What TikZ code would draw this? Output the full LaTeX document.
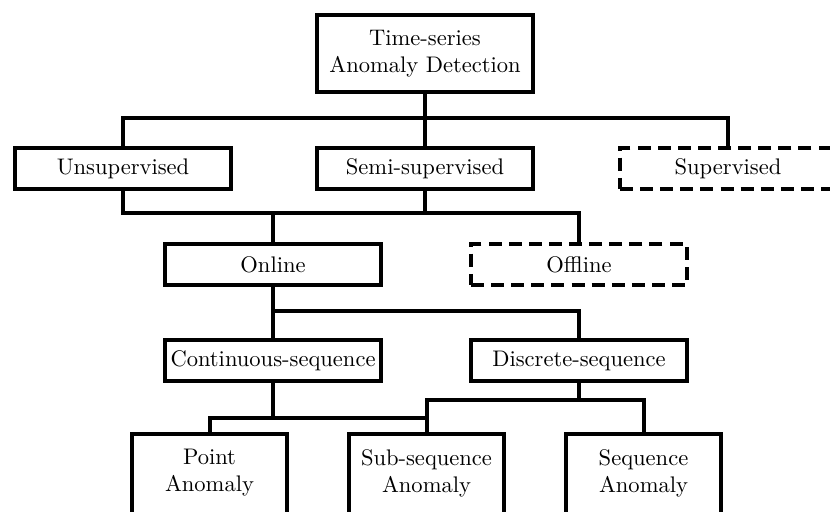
\documentclass[tikz,border=0pt]{standalone}
\begin{document}
\begin{tikzpicture}[x=0.4525pt,y=-0.4525pt,line width=1.81pt,
  font=\fontsize{10.2}{12.2}\selectfont,
  box/.style={draw, rectangle, minimum width=97.74pt, minimum height=18.55pt, inner sep=0pt, align=center},
  rootbox/.style={box, minimum height=34.84pt},
  dbox/.style={box, dash pattern=on 5.9pt off 3.2pt},
  leaf/.style={rectangle, minimum width=68.55pt, minimum height=33.49pt, inner sep=0pt, align=center},
  conn/.style={draw}]
\useasboundingbox (0,0) rectangle (830,512);
\clip (0,0) rectangle (830,512);

\node[rootbox] (root) at (425,53.5) {Time-series\\Anomaly Detection};
\node[box] (unsup) at (123,168.5) {Unsupervised};
\node[box] (semi) at (425,168.5) {Semi-supervised};
\node[dbox] (sup) at (728,168.5) {Supervised};
\node[box] (online) at (273,264.5) {Online};
\node[dbox] (offline) at (579,264.5) {Offline};
\node[box] (cont) at (273,360.5) {Continuous-sequence};
\node[box] (disc) at (579,360.5) {Discrete-sequence};
\node[leaf] (pt) at (209.5,473) {Point\\Anomaly};
\node[leaf] (sub) at (426.5,473) {Sub-sequence\\Anomaly};
\node[leaf] (seq) at (643.5,473) {Sequence\\Anomaly};

\foreach \n in {pt,sub,seq}{
  \draw ([yshift=-30pt]\n.south west) -- (\n.north west) -- (\n.north east) -- ([yshift=-30pt]\n.south east);
}

\coordinate (b1) at (425,118);
\coordinate (b2) at (273,213);
\coordinate (b3) at (273,311);
\coordinate (b4) at (273,418);
\coordinate (b5) at (579,400);

\draw[conn] (root.south) -- (semi.north);
\draw[conn] (unsup.north) |- (b1) -| (sup.north);

\draw[conn] (unsup.south) |- (b2) -| (offline.north);
\draw[conn] (semi.south) -- (semi.south |- b2);
\draw[conn] (b2) -- (online.north);

\draw[conn] (online.south) -- (cont.north);
\draw[conn] (b3) -| (disc.north);

\draw[conn] (cont.south) -- (b4);
\draw[conn] (pt.north) |- (b4) -| (sub.north);
\draw[conn] (disc.south) -- (b5);
\draw[conn] (sub.north) |- (b5) -| (seq.north);
\end{tikzpicture}
\end{document}
